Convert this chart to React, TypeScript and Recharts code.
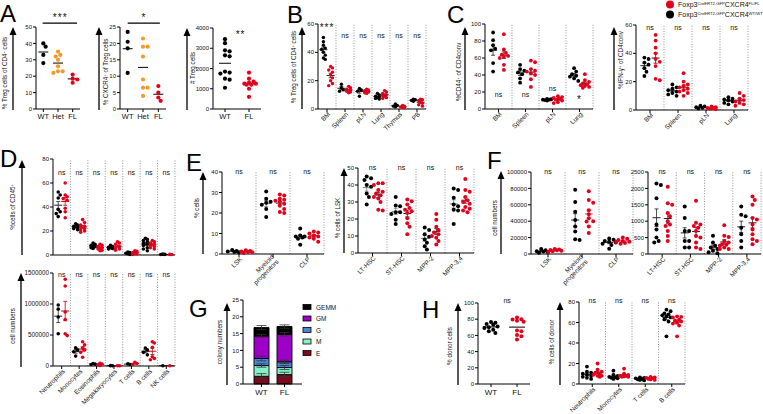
import React from 'react';
import { ScatterChart, Scatter, XAxis, YAxis, ReferenceLine, ReferenceDot, BarChart, Bar, ErrorBar } from 'recharts';

const FONT = '"Liberation Sans", Arial, Helvetica, sans-serif';
const BLACK = '#000000';
const RED = '#e3001b';
const ORANGE = '#f39a2c';

// ---------------- data ----------------
const A_CATS = ['WT', 'Het', 'FL'];
const A1_TICKS = [0, 10, 20, 30, 40, 50];
const A1_WT = [40, 38, 33, 28];
const A1_HET = [35, 33, 32, 30, 26, 23, 23, 22];
const A1_FL = [21, 18.5, 18, 16];
const A2_TICKS = [0, 5, 10, 15, 20, 25];
const A2_WT = [23.5, 20.5, 18.5, 11];
const A2_HET = [21.5, 19, 19, 16, 9, 6.5, 6.5, 4];
const A2_FL = [7, 5, 3.5, 2.5];
const A3_CATS = ['WT', 'FL'];
const A3_TICKS = [0, 1000, 2000, 3000, 4000];
const A3_WT = [3450, 3250, 2900, 2850, 2650, 2600, 1850, 1800, 1750, 1500, 1450, 1050];
const A3_FL = [1800, 1500, 1350, 1300, 1250, 1250, 1200, 1200, 1000, 600];

const B_CATS = ['BM', 'Spleen', 'pLN', 'Lung', 'Thymus', 'PB'];
const B_TICKS = [0, 20, 40, 60];
const B_WT = [[50.5, 47.5, 45, 43, 42, 40, 38, 36, 35], [17.5, 15, 13.5, 12.5], [14.5, 13.5, 12.5, 9], [11, 10, 9, 8.5, 8, 7.5, 7], [3.5, 2.5, 2, 1.5], [7, 6.5, 6, 5.5]];
const B_FL = [[30, 29, 27.5, 26, 24, 22, 20, 18, 16.5], [16, 15, 14, 13.5, 13, 12.5, 12, 11.5], [14, 13.5, 13, 12.5, 12, 11.5, 11], [13, 12, 11, 10, 9.5, 9, 8, 7.5], [2.5, 2, 1.5, 1, 1], [7, 6.5, 6, 5, 4, 3, 2]];
const B_SIG = ['***', 'ns', 'ns', 'ns', 'ns', 'ns'];
const B_SIG_Y = [59, 52, 52, 52, 52, 52];

const C_CATS = ['BM', 'Spleen', 'pLN', 'Lung'];
const C1_TICKS = [0, 20, 40, 60, 80, 100];
const C1_WT = [[90, 81, 75, 71, 69, 54, 44], [52, 47, 45, 43, 41, 36, 31], [12, 11.5, 11, 11, 10.5, 10], [48, 44, 41, 39, 38, 36, 33]];
const C1_FL = [[88, 70, 66, 64, 62.5, 61.5, 60, 52, 46], [57, 55, 47, 45, 44, 42, 40, 35, 26], [15, 14, 13, 12, 11, 10, 8, 7], [41, 34, 32, 30, 29, 28, 27, 26, 25]];
const C1_SIG = ['ns', 'ns', 'ns', '*'];
const C1_SIG_Y = [16.5, 16.5, 24, 14.5];
const C2_TICKS = [0, 20, 40, 60];
const C2_WT = [[37, 36, 33.5, 32, 29.5, 27, 24], [18, 16, 15, 14, 13, 12, 11, 10], [3, 2.5, 2, 1.5, 1], [9, 8, 7.5, 7, 6, 5, 4]];
const C2_FL = [[53, 49, 44, 40, 36, 34, 31, 22, 21], [26, 20, 18, 17, 16, 15, 14, 13, 12, 10], [2.5, 2, 1.5, 1.5, 1, 1, 0.5], [12, 10, 8, 7, 6, 5, 4, 3]];
const C2_SIG = ['ns', 'ns', 'ns', 'ns'];
const C2_SIG_Y = [58, 58, 58, 58];

const D_CATS = ['Neutrophils', 'Monocytes', 'Eosinophils', 'Megakaryocytes', 'T cells', 'B cells', 'NK cells'];
const D1_TICKS = [0, 20, 40, 60, 80];
const D1_WT = [[52.5, 50, 47.5, 38, 36, 34.5, 32], [26, 25, 24, 23.5, 23, 22, 21], [10, 9, 8, 7.5, 7, 6, 5.5], [8, 7, 6.5, 6, 5.5, 5], [2.5, 2, 1.5, 1, 0.5], [14, 13, 12, 11, 10, 9, 8, 6, 5, 3.5], [0.7, 0.5, 0.4]];
const D1_FL = [[60, 50, 48.5, 47, 45.5, 39, 36, 31], [29.5, 27, 25, 24, 23, 22, 21, 20, 19], [9, 8, 7, 6, 5, 4, 3.5], [11, 10, 9, 7, 6, 5, 4], [3.5, 3, 2, 1.5, 1, 0.5], [12, 11, 10, 9, 8, 7, 6, 5], [0.5, 0.4]];
const D_SIG = ['ns', 'ns', 'ns', 'ns', 'ns', 'ns', 'ns'];
const D1_SIG_Y = [69, 69, 69, 69, 69, 69, 69];
const D2_TICKS = [0, 500000, 1000000, 1500000];
const D2_WT = [[985000, 920000, 790000, 520000], [295000, 260000, 230000, 160000], [40000, 30000, 25000], [6000, 4000], [35000, 25000], [290000, 260000, 220000, 180000], [5000]];
const D2_FL = [[1400000, 1290000, 870000, 750000, 520000, 490000], [390000, 340000, 290000, 260000, 220000, 140000], [45000, 30000, 20000, 10000], [5000, 3000], [60000, 40000, 25000], [390000, 370000, 300000, 150000, 120000, 100000], [5000]];
const D2_SIG_Y = [1480000, 1480000, 1480000, 1480000, 1480000, 1480000, 1480000];

const E1_CATS = ['LSK', 'Myeloid\nprogenitors', 'CLP'];
const E1_TICKS = [0, 10, 20, 30, 40];
const E1_WT = [[2, 1.5, 1.2, 1, 0.8], [30.5, 27, 25.5, 25, 24, 22, 18], [12.5, 9, 8.5, 8.5, 8, 7.5, 4.5]];
const E1_FL = [[1.8, 1.5, 1.2, 1, 0.8, 0.5], [29, 28.5, 27, 26.5, 26, 25.5, 24.5, 23.5, 22, 20.5, 20], [11, 10.5, 10, 9, 8.5, 8, 7.5, 6]];
const E1_SIG = ['ns', 'ns', 'ns'];
const E1_SIG_Y = [40, 40, 40];
const E2_CATS = ['LT-HSC', 'ST-HSC', 'MPP-2', 'MPP-3,4'];
const E2_TICKS = [0, 10, 20, 30, 40, 50];
const E2_WT = [[45, 44, 43, 40, 39, 35, 33, 28.5], [33, 28, 27.5, 24, 24, 23, 19.5, 17], [15, 13.5, 11, 9.5, 8, 6, 4, 2], [38, 37, 32.5, 28.5, 27.5, 25.5, 25, 17]];
const E2_FL = [[41, 41, 40, 37, 36, 35, 34, 33, 32, 30, 25.5, 25], [31.5, 30.5, 28.5, 26.5, 25.5, 24.5, 23.5, 20.5, 17.5, 15.5, 11], [23, 19.5, 15.5, 13.5, 12, 11, 10, 9, 7, 5], [43.5, 37, 36, 33, 31, 30, 29, 27, 26, 25, 24]];
const E2_SIG = ['ns', 'ns', 'ns', 'ns'];
const E2_SIG_Y = [50, 50, 50, 50];

const F1_TICKS = [0, 20000, 40000, 60000, 80000, 100000];
const F1_WT = [[6000, 4500, 3500, 3000, 2000, 1500], [78500, 63500, 51500, 41500, 33500, 27500, 18000, 17000], [19000, 17500, 16000, 15000, 14000, 12500, 11000, 6500]];
const F1_FL = [[6000, 5500, 5000, 4500, 4000, 3500, 2500], [76500, 66000, 62500, 53500, 48500, 43500, 40000, 39500, 33500, 25500], [20000, 18500, 17000, 16000, 15000, 14500, 13500, 12500]];
const F1_SIG_Y = [100000, 100000, 100000];
const F2_TICKS = [0, 500, 1000, 1500, 2000, 2500];
const F2_WT = [[2150, 2100, 1700, 900, 750, 500, 400, 350], [1450, 1100, 700, 700, 400, 400, 200, 200], [560, 350, 250, 200, 150, 100, 50, 20], [1450, 1200, 1150, 800, 600, 400, 200]];
const F2_FL = [[2050, 1550, 1500, 1250, 1150, 1000, 900, 850, 700, 550, 400], [1620, 950, 900, 850, 800, 700, 550, 500, 350, 200, 150], [880, 560, 520, 400, 350, 300, 280, 250, 200, 150, 150], [1750, 1650, 1500, 1100, 1050, 900, 750, 600, 450, 400, 300]];
const F2_SIG_Y = [2500, 2500, 2500, 2500];

const G_GROUPS = ['WT', 'FL'];
const G_KEYS = ['E', 'M', 'G', 'GM', 'GEMM'];
const G_COLORS = ['#7a0a1c', '#86f0c8', '#4a86d8', '#9d00c6', '#000000'];
const G_VALUES = [[2.3, 2.8], [3.2, 2.1], [2.1, 1.7], [6.7, 8.2], [2.5, 2.3]];
const G_ERRORS = [[0.8, 0.7], [0.5, 0.6], [0.7, 0.5], [0.4, 0.5], [0.6, 0.5]];
const G_TICKS = [0, 5, 10, 15, 20, 25];

const H1_CATS = ['WT', 'FL'];
const H1_TICKS = [0, 20, 40, 60, 80, 100];
const H1_WT = [76.5, 75.5, 74, 73, 71, 70, 69, 67, 65, 63];
const H1_FL = [82, 80, 79.5, 78, 77, 66, 65, 60.5, 59, 55];
const H2_CATS = ['Neutrophils', 'Monocytes', 'T cells', 'B cells'];
const H2_TICKS = [0, 20, 40, 60, 80];
const H2_WT = [[17, 12, 11, 10, 9, 8, 7, 6, 5], [13, 9, 8, 7, 6.5, 6, 5.5, 5], [6.5, 6, 5.5, 5, 4.5, 4, 3.5], [72.5, 71, 69, 68, 67, 66, 65, 63, 61, 46.5]];
const H2_FL = [[20, 14, 12, 11, 10, 9, 8, 8, 7], [15, 10, 9, 8, 8, 7.5, 7, 7], [7, 6.5, 6, 5.5, 5, 4.5, 4], [66, 65.5, 65, 63, 62, 61, 60, 59, 57, 46.5]];
const H2_SIG = ['ns', 'ns', 'ns', 'ns'];
const H2_SIG_Y = [81, 81, 81, 81];

const LEGEND_ITEMS: [string, string][] = [
  [RED, 'Foxp3^CreERT2-GFP^CXCR4^FL/FL^'],
  [BLACK, 'Foxp3^CreERT2-GFP^CXCR4^WT/WT^'],
];

// ---------------- helpers ----------------
const mean = (a: number[]) => a.reduce((s, v) => s + v, 0) / a.length;
const sem = (a: number[]) => {
  const m = mean(a);
  const sd = Math.sqrt(a.reduce((s, v) => s + (v - m) * (v - m), 0) / (a.length - 1));
  return sd / Math.sqrt(a.length);
};

function swarm(vals: number[], cx: number, kx: number, ky: number, r: number, maxOff: number) {
  const idx = vals.map((_, i) => i).sort((a, b) => vals[b] - vals[a]);
  const placed: { px: number; py: number }[] = [];
  const res: { x: number; y: number }[] = new Array(vals.length);
  const step = r * 1.1;
  const minD = r * 1.9;
  const kmax = Math.max(1, Math.floor(maxOff / step));
  const cands = [0];
  for (let k = 1; k <= kmax; k++) cands.push(k * step, -k * step);
  for (const i of idx) {
    const py = vals[i] * ky;
    let best = 0;
    let bestD = -1;
    for (const off of cands) {
      let md = Infinity;
      for (const p of placed) md = Math.min(md, Math.hypot(p.px - off, p.py - py));
      if (md >= minD) { best = off; break; }
      if (md > bestD) { bestD = md; best = off; }
    }
    placed.push({ px: best, py });
    res[i] = { x: cx + best / kx, y: vals[i] };
  }
  return res;
}

function Rich({ text, x, y, size, anchor = 'middle', rotate = false, supSize, fill = '#111' }: any) {
  const parts: string[] = text.split('^');
  const sup = supSize ?? size * 0.62;
  const shift = size * 0.38;
  return (
    <text x={x} y={y} fontSize={size} textAnchor={anchor} fontFamily={FONT} fill={fill}
      transform={rotate ? `rotate(-90 ${x} ${y})` : undefined}>
      {parts.map((p, i) => (p === '' ? null : i % 2 === 1
        ? <tspan key={i} fontSize={sup} dy={-shift}>{p}</tspan>
        : <tspan key={i} dy={i === 0 ? 0 : shift}>{p}</tspan>))}
    </text>
  );
}

function NoteText(props: any) {
  const vb = props.viewBox || {};
  const x = (vb.x ?? 0) + (vb.width ?? 0) / 2;
  const y = (vb.y ?? 0) + (vb.height ?? 0) / 2;
  const star = String(props.noteText).includes('*');
  return (
    <text x={x} y={y} dy={star ? '0.6em' : '0.35em'} textAnchor="middle" fontSize={star ? 10 : 7}
      letterSpacing={star ? 1 : 0} fontFamily={FONT} style={{ fill: '#111', stroke: 'none' }}>{props.noteText}</text>
  );
}

function CatTick(props: any) {
  const { x, y, payload, cats, mode, fs } = props;
  const label: string = cats[Math.floor(payload.value)] ?? '';
  if (mode === 'flat') {
    return <text x={x} y={y} dy="0.72em" textAnchor="middle" fontSize={fs} fontFamily={FONT} fill="#111">{label}</text>;
  }
  const lines = label.split('\n');
  const ax = x + 2;
  const ay = y - 1;
  return (
    <text transform={`rotate(-45 ${ax} ${ay})`} x={ax} y={ay} textAnchor="end" fontSize={fs} fontFamily={FONT} fill="#111">
      {lines.map((l, k) => (
        <tspan key={k} x={ax} dy={k === 0 ? (lines.length > 1 ? '-0.15em' : '0.35em') : '1.05em'}>{l}</tspan>
      ))}
    </text>
  );
}

type Group = { vals: number[][]; color: string; pos: number; sumColor?: string };
type Cfg = {
  x0: number; x1: number; y0: number; y1: number;
  ticks: number[];
  cats: string[];
  groups: Group[];
  labels: 'none' | 'flat' | 'rot';
  divide: boolean;
  summary: 'mean' | 'sem';
  meanHalf?: number;
  r: number;
  spread: number;
  sig?: string[];
  sigY?: number[];
  bars?: { from: number; to: number; y: number }[];
  notes?: { x: number; y: number; text: string }[];
  tickFs?: number;
  labelFs?: number;
  T?: number;
};

function DotPanel({ c }: { c: Cfg }) {
  const n = c.cats.length;
  const L = 40;
  const R = 4;
  const T = c.T ?? 16;
  const B = c.labels === 'rot' ? 48 : c.labels === 'flat' ? 18 : 6;
  const pw = c.x1 - c.x0;
  const ph = c.y1 - c.y0;
  const yMin = c.ticks[0];
  const yMax = c.ticks[c.ticks.length - 1];
  const kx = pw / n;
  const ky = ph / (yMax - yMin);
  const centers = c.cats.map((_, i) => i + 0.5);
  const tickFs = c.tickFs ?? 6;
  const labelFs = c.labelFs ?? 6.5;
  const items: any[] = [];

  if (c.divide) {
    for (let i = 1; i <= n; i++) {
      items.push(<ReferenceLine key={'d' + i} x={i} stroke="#777" strokeWidth={0.8} strokeDasharray="1 1.6" ifOverflow="visible" />);
    }
  }

  c.groups.forEach((g, gi) => {
    const pts: { x: number; y: number }[] = [];
    g.vals.forEach((vals, i) => {
      if (!vals.length) return;
      const s = swarm(vals, i + g.pos, kx, ky, c.r, c.spread * kx);
      s.forEach((p) => pts.push({ x: Math.min(n - 0.02, Math.max(0.02, p.x)), y: p.y }));
    });
    items.push(
      <Scatter key={'g' + gi} data={pts} isAnimationActive={false}
        shape={(p: any) => <circle cx={p.cx} cy={p.cy} r={c.r} fill={g.color} />} />
    );
  });

  c.groups.forEach((g, gi) => {
    const col = g.sumColor ?? '#222';
    g.vals.forEach((vals, i) => {
      if (!vals.length) return;
      const cx = i + g.pos;
      const m = mean(vals);
      const hw = (c.meanHalf ?? 4) / kx;
      items.push(<ReferenceLine key={`m${gi}-${i}`} segment={[{ x: cx - hw, y: m }, { x: cx + hw, y: m }]} stroke={col} strokeWidth={1} ifOverflow="visible" />);
      if (c.summary === 'sem' && vals.length > 1) {
        const s = sem(vals);
        const cw = 2 / kx;
        items.push(<ReferenceLine key={`v${gi}-${i}`} segment={[{ x: cx, y: m - s }, { x: cx, y: m + s }]} stroke={col} strokeWidth={0.8} ifOverflow="visible" />);
        items.push(<ReferenceLine key={`t${gi}-${i}`} segment={[{ x: cx - cw, y: m + s }, { x: cx + cw, y: m + s }]} stroke={col} strokeWidth={0.8} ifOverflow="visible" />);
        items.push(<ReferenceLine key={`b${gi}-${i}`} segment={[{ x: cx - cw, y: m - s }, { x: cx + cw, y: m - s }]} stroke={col} strokeWidth={0.8} ifOverflow="visible" />);
      }
    });
  });

  (c.bars ?? []).forEach((b, i) => {
    items.push(<ReferenceLine key={'bar' + i} segment={[{ x: b.from, y: b.y }, { x: b.to, y: b.y }]} stroke="#000" strokeWidth={1.3} ifOverflow="visible" />);
  });

  const notes = [...(c.notes ?? [])];
  (c.sig ?? []).forEach((t, i) => notes.push({ x: i + 0.5, y: (c.sigY ?? [])[i], text: t }));
  notes.forEach((nt, i) => {
    items.push(
      <ReferenceDot key={'n' + i} x={nt.x} y={nt.y} r={0} fill="none" stroke="none" ifOverflow="visible"
        label={<NoteText noteText={nt.text} />} />
    );
  });

  return (
    <div style={{ position: 'absolute', left: c.x0 - L, top: c.y0 - T }}>
      <ScatterChart width={pw + L + R} height={ph + T + B} margin={{ top: T, right: R, bottom: 0, left: 0 }}>
        <XAxis type="number" dataKey="x" domain={[0, n]} ticks={centers} interval={0} height={B}
          allowDataOverflow
          axisLine={{ stroke: '#000', strokeWidth: 1 }} tickLine={{ stroke: '#000' }} tickSize={3}
          tick={c.labels === 'none' ? false : <CatTick cats={c.cats} mode={c.labels} fs={labelFs} />} />
        <YAxis type="number" dataKey="y" domain={[yMin, yMax]} ticks={c.ticks} interval={0} width={L}
          axisLine={{ stroke: '#000', strokeWidth: 1 }} tickLine={{ stroke: '#000' }} tickSize={3} tickMargin={1}
          tick={{ fontSize: tickFs, fill: '#111', fontFamily: FONT }} />
        {items}
      </ScatterChart>
    </div>
  );
}

const pair = (wt: number[][], fl: number[][], wtSum = '#222', flSum = '#222'): Group[] => [
  { vals: wt, color: BLACK, pos: 0.3, sumColor: wtSum },
  { vals: fl, color: RED, pos: 0.7, sumColor: flSum },
];

const PANELS: Cfg[] = [
  {
    x0: 36, x1: 80, y0: 27, y1: 109, ticks: A1_TICKS, cats: A_CATS,
    groups: [
      { vals: [A1_WT, [], []], color: BLACK, pos: 0.5, sumColor: '#000' },
      { vals: [[], A1_HET, []], color: ORANGE, pos: 0.5, sumColor: '#000' },
      { vals: [[], [], A1_FL], color: RED, pos: 0.5, sumColor: '#000' },
    ],
    labels: 'flat', divide: false, summary: 'mean', meanHalf: 5, r: 2.1, spread: 0.38, labelFs: 7.5, T: 26,
    bars: [{ from: 0.45, to: 2.8, y: 52.4 }], notes: [{ x: 1.65, y: 57.5, text: '***' }],
  },
  {
    x0: 120, x1: 166, y0: 27, y1: 109, ticks: A2_TICKS, cats: A_CATS,
    groups: [
      { vals: [A2_WT, [], []], color: BLACK, pos: 0.5, sumColor: '#000' },
      { vals: [[], A2_HET, []], color: ORANGE, pos: 0.5, sumColor: '#000' },
      { vals: [[], [], A2_FL], color: RED, pos: 0.5, sumColor: '#000' },
    ],
    labels: 'flat', divide: false, summary: 'mean', meanHalf: 5, r: 2.1, spread: 0.38, labelFs: 7.5, T: 26,
    bars: [{ from: 0.5, to: 2.6, y: 26.2 }], notes: [{ x: 1.57, y: 28.6, text: '*' }],
  },
  {
    x0: 213, x1: 261, y0: 28, y1: 109, ticks: A3_TICKS, cats: A3_CATS,
    groups: [
      { vals: [A3_WT, []], color: BLACK, pos: 0.5, sumColor: '#000' },
      { vals: [[], A3_FL], color: RED, pos: 0.5, sumColor: '#000' },
    ],
    labels: 'flat', divide: false, summary: 'mean', meanHalf: 6, r: 2.1, spread: 0.3, labelFs: 7.5, T: 26,
    notes: [{ x: 1.15, y: 3800, text: '**' }],
  },
  {
    x0: 318, x1: 426, y0: 24, y1: 109, ticks: B_TICKS, cats: B_CATS, groups: pair(B_WT, B_FL),
    labels: 'rot', divide: true, summary: 'sem', r: 1.7, spread: 0.2, sig: B_SIG, sigY: B_SIG_Y,
  },
  {
    x0: 485, x1: 593, y0: 24, y1: 109, ticks: C1_TICKS, cats: C_CATS, groups: pair(C1_WT, C1_FL),
    labels: 'rot', divide: true, summary: 'sem', r: 1.9, spread: 0.2, sig: C1_SIG, sigY: C1_SIG_Y,
  },
  {
    x0: 636, x1: 748, y0: 25, y1: 110, ticks: C2_TICKS, cats: C_CATS, groups: pair(C2_WT, C2_FL),
    labels: 'rot', divide: true, summary: 'sem', r: 1.9, spread: 0.2, sig: C2_SIG, sigY: C2_SIG_Y,
  },
  {
    x0: 53, x1: 175, y0: 159, y1: 255, ticks: D1_TICKS, cats: D_CATS, groups: pair(D1_WT, D1_FL, '#222', '#c00010'),
    labels: 'none', divide: true, summary: 'sem', r: 1.8, spread: 0.2, sig: D_SIG, sigY: D1_SIG_Y,
  },
  {
    x0: 53, x1: 175, y0: 273, y1: 366, ticks: D2_TICKS, cats: D_CATS, groups: pair(D2_WT, D2_FL, '#222', '#c00010'),
    labels: 'rot', divide: true, summary: 'sem', r: 1.8, spread: 0.2, sig: D_SIG, sigY: D2_SIG_Y, tickFs: 6.3,
  },
  {
    x0: 222, x1: 324, y0: 172, y1: 254, ticks: E1_TICKS, cats: E1_CATS, groups: pair(E1_WT, E1_FL, '#777', '#222'),
    labels: 'rot', divide: true, summary: 'sem', r: 2, spread: 0.2, sig: E1_SIG, sigY: E1_SIG_Y,
  },
  {
    x0: 358, x1: 474, y0: 168, y1: 253, ticks: E2_TICKS, cats: E2_CATS, groups: pair(E2_WT, E2_FL, '#777', '#222'),
    labels: 'rot', divide: true, summary: 'sem', r: 2, spread: 0.2, sig: E2_SIG, sigY: E2_SIG_Y,
  },
  {
    x0: 531, x1: 633, y0: 172, y1: 254, ticks: F1_TICKS, cats: E1_CATS, groups: pair(F1_WT, F1_FL, '#222', '#e05060'),
    labels: 'rot', divide: true, summary: 'sem', r: 2, spread: 0.2, sig: E1_SIG, sigY: F1_SIG_Y,
  },
  {
    x0: 648, x1: 761, y0: 172, y1: 254, ticks: F2_TICKS, cats: E2_CATS, groups: pair(F2_WT, F2_FL, '#222', '#222'),
    labels: 'rot', divide: true, summary: 'sem', r: 2, spread: 0.2, sig: E2_SIG, sigY: F2_SIG_Y,
  },
  {
    x0: 478, x1: 530, y0: 303, y1: 384, ticks: H1_TICKS, cats: H1_CATS,
    groups: [
      { vals: [H1_WT, []], color: BLACK, pos: 0.5, sumColor: '#000' },
      { vals: [[], H1_FL], color: RED, pos: 0.5, sumColor: '#000' },
    ],
    labels: 'flat', divide: false, summary: 'mean', meanHalf: 8, r: 2, spread: 0.3, labelFs: 8,
    notes: [{ x: 1.12, y: 103.5, text: 'ns' }],
  },
  {
    x0: 579, x1: 685, y0: 302, y1: 384, ticks: H2_TICKS, cats: H2_CATS, groups: pair(H2_WT, H2_FL),
    labels: 'rot', divide: true, summary: 'sem', r: 1.9, spread: 0.2, sig: H2_SIG, sigY: H2_SIG_Y,
  },
];

function GPanel() {
  const data = G_GROUPS.map((name, j) => {
    const row: any = { name };
    G_KEYS.forEach((k, i) => { row[k] = G_VALUES[i][j]; row[k + '_err'] = G_ERRORS[i][j]; });
    return row;
  });
  const L = 22, T = 6, B = 18, R = 4;
  const x0 = 243, x1 = 302, y0 = 300, y1 = 384;
  return (
    <div style={{ position: 'absolute', left: x0 - L, top: y0 - T }}>
      <BarChart width={x1 - x0 + L + R} height={y1 - y0 + T + B} data={data} margin={{ top: T, right: R, bottom: 0, left: 0 }} barSize={15}>
        <XAxis dataKey="name" type="category" height={B} padding={{ left: 7, right: 6 }} interval={0}
          axisLine={{ stroke: '#000' }} tickLine={{ stroke: '#000' }} tickSize={3}
          tick={{ fontSize: 8, fill: '#111', fontFamily: FONT }} />
        <YAxis type="number" domain={[0, 25]} ticks={G_TICKS} width={L} interval={0}
          axisLine={{ stroke: '#000' }} tickLine={{ stroke: '#000' }} tickSize={3} tickMargin={1}
          tick={{ fontSize: 6, fill: '#111', fontFamily: FONT }} />
        {G_KEYS.map((k, i) => (
          <Bar key={k} dataKey={k} stackId="a" fill={G_COLORS[i]} stroke="#000" strokeWidth={0.9} isAnimationActive={false}>
            <ErrorBar dataKey={k + '_err'} width={5} stroke="#333" strokeWidth={0.8} direction="y" />
          </Bar>
        ))}
      </BarChart>
    </div>
  );
}

// ---------------- decorations (layout only) ----------------
const LAYOUT_LETTERS: [string, number, number][] = [
  ['A', 0, 22], ['B', 287, 22.5], ['C', 447, 22.5], ['D', 0, 167], ['E', 186, 171], ['F', 487, 169], ['G', 189, 317], ['H', 422, 318],
];
const LAYOUT_ARROWS: [number, number, number][] = [
  [13, 27, 110], [99, 27, 110], [187, 28, 110], [302, 27, 109], [465, 27, 110], [614, 27, 110],
  [22, 160, 255], [21, 273, 367], [203, 172, 254], [344, 168, 253], [501, 171, 254],
  [227, 303, 385], [458, 303, 385], [560, 302, 385],
];
const LAYOUT_YLABELS: [string, number, number][] = [
  ['% Treg cells of CD4^+^ cells', 5, 73], ['% CXCR4^+^ of Treg cells', 106, 72], ['# Treg cells', 193, 68],
  ['% Treg cells of CD4^+^ cells', 294, 67], ['%CD44^+^ of CD4conv', 459, 72], ['%IFN-γ^+^ of CD4conv', 621, 60],
  ['%cells of CD45^+^', 13, 207], ['cell numbers', 13, 326], ['% cells', 197, 208], ['% cells of LSK', 338, 218],
  ['cell numbers', 495, 218], ['colony numbers', 220, 342], ['% donor cells', 450, 346], ['% cells of donor', 552, 342],
];

function Overlay() {
  const gLegendNames = [...G_KEYS].reverse();
  const gLegendColors = [...G_COLORS].reverse();
  return (
    <svg width={763} height={414} style={{ position: 'absolute', left: 0, top: 0, pointerEvents: 'none' }}>
      {LAYOUT_LETTERS.map(([t, x, y]) => (
        <text key={t} x={x} y={y} fontSize={24} fontFamily={FONT} fill="#000">{t}</text>
      ))}
      {LAYOUT_ARROWS.map(([x, t, b], i) => (
        <g key={i}>
          <line x1={x} x2={x} y1={t + 6} y2={b} stroke="#000" strokeWidth={1.3} />
          <polygon points={`${x - 3.5},${t + 8} ${x + 3.5},${t + 8} ${x},${t}`} fill="#000" />
        </g>
      ))}
      {LAYOUT_YLABELS.map(([t, x, y], i) => (
        <Rich key={i} text={t} x={x + 2.2} y={y} size={6.3} rotate />
      ))}
      {LEGEND_ITEMS.map(([col, t], i) => (
        <g key={'lg' + i}>
          <circle cx={670} cy={4.5 + i * 10} r={4} fill={col} />
          <Rich text={t} x={678} y={7.3 + i * 10} size={7} supSize={4.2} anchor="start" />
        </g>
      ))}
      {gLegendNames.map((nm, i) => (
        <g key={'gl' + i}>
          <rect x={303} y={304.5 + i * 11.5} width={8} height={5} fill={gLegendColors[i]} stroke="#000" strokeWidth={0.8} />
          <text x={316} y={309.5 + i * 11.5} fontSize={6.5} fontFamily={FONT} fill="#111">{nm}</text>
        </g>
      ))}
    </svg>
  );
}

export default function App() {
  return (
    <div style={{ position: 'absolute', left: 0, top: 0, width: 763, height: 414, overflow: 'hidden', background: '#fff', fontFamily: FONT }}>
      {PANELS.map((c, i) => <DotPanel key={i} c={c} />)}
      <GPanel />
      <Overlay />
    </div>
  );
}
